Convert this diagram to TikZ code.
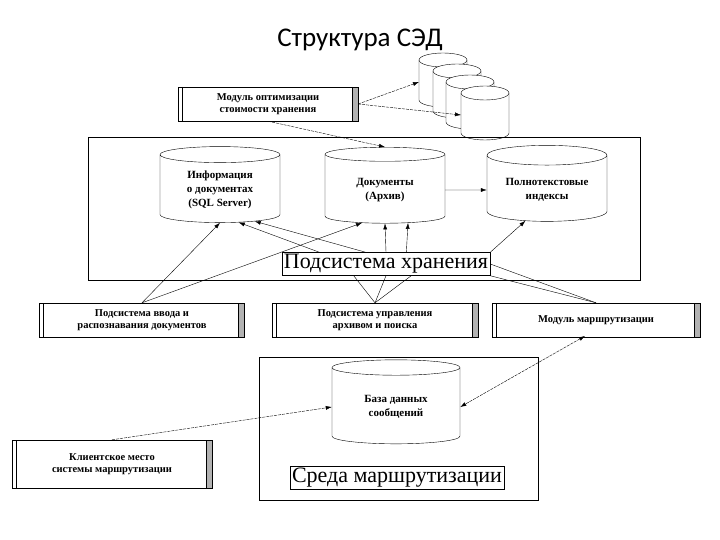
\documentclass[tikz,border=0pt]{standalone}
\usepackage{fontspec}
\setmainfont{Liberation Serif}
\newfontfamily\titlefont{Carlito}
\usetikzlibrary{shapes.geometric,arrows.meta}

\tikzset{
  db/.style={cylinder, shape border rotate=90, aspect=0.22, draw, fill=white,
    minimum width=120pt, minimum height=76pt, align=center, font=\bfseries\fontsize{11}{14}\selectfont},
  module/.style={draw, fill=white, minimum height=34pt, align=center, inner sep=1pt,
    font=\bfseries\fontsize{10.5}{12}\selectfont,
    path picture={
      \draw ([xshift=4pt]path picture bounding box.north west) -- ([xshift=4pt]path picture bounding box.south west);
      \fill[gray!60] ([xshift=-6pt]path picture bounding box.north east) rectangle (path picture bounding box.south east);
      \draw ([xshift=-6pt]path picture bounding box.north east) -- ([xshift=-6pt]path picture bounding box.south east);
    }},
  tagbox/.style={draw, fill=white, inner sep=2pt, font=\fontsize{22}{24}\selectfont},
  link/.style={-{Latex[length=6pt,width=4pt]}, thin},
  dlink/.style={link, dash pattern=on 3pt off 1pt},
}

\begin{document}
\begin{tikzpicture}[x=1pt,y=-1pt]
  \useasboundingbox (0,0) rectangle (720,540);

  \node[font=\titlefont\fontsize{27}{29}\selectfont] (title) at (360,40){Структура СЭД};

  % archive stack
  \foreach \i/\x/\y in {1/443/80,2/457/91,3/470/102,4/485/113}{
    \filldraw[fill=white] (\x-24,\y-20) -- (\x-24,\y+20) arc[start angle=180,end angle=360,x radius=24,y radius=-7]
      -- (\x+24,\y-20) arc[start angle=0,end angle=180,x radius=24,y radius=-7] -- cycle;
    \draw (\x-24,\y-20) arc[start angle=180,end angle=360,x radius=24,y radius=-7];
    \coordinate (s\i) at (\x-24,\y+2);
  }

  \node[module, minimum width=180pt] (opt) at (268,104){Модуль оптимизации\\стоимости хранения};

  % storage subsystem
  \draw (88,137) rectangle (640,280);
  \node[db] (info) at (220,190){Информация\\о документах\\(SQL Server)};
  \node[db] (docs) at (385,190){Документы\\(Архив)};
  \node[db] (fts) at (547,190){Полнотекстовые\\индексы};
  \node[tagbox] (store) at (386,264){Подсистема хранения};

  \node[module, minimum width=205pt] (input) at (142,320){Подсистема ввода и\\распознавания документов};
  \node[module, minimum width=206pt] (arch) at (375,320){Подсистема управления\\архивом и поиска};
  \node[module, minimum width=208pt] (route) at (596,320){Модуль маршрутизации};

  % routing environment
  \draw (259,357) rectangle (538,500);
  \node[db, minimum width=128pt, minimum height=84pt] (msg) at (396,407){База данных\\сообщений};
  \node[tagbox] (env) at (397,478){Среда маршрутизации};
  \node[module, minimum width=200pt, minimum height=48pt] (client) at (112,464){Клиентское место\\системы маршрутизации};

  \draw[dlink] (opt.east) -- (s1);
  \draw[dlink] (opt.east) -- (s4);
  \draw[dlink] (opt.south) -- (docs.north);
  \draw[link] (docs.east) -- (fts.west);

  \draw[link] (input.north) -- (info.south);
  \draw[link] (input.north) -- (docs.235);
  \draw[link] (store.170) -- (info.300);
  \draw[link] (store.150) -- (info.318);
  \draw[link] (store.north) -- (docs.south);
  \draw[link] (store.30) -- (docs.305);
  \draw[link] (store.north east) -- (fts.235);

  \draw (arch.north) -- (store.200);
  \draw (arch.north) -- (store.south);
  \draw (arch.north) -- (store.335);
  \draw (route.north) -- (store.south east);
  \draw (route.north) -- (store.east);

  \coordinate (r) at (585,336);
  \draw[dlink, {Latex[length=6pt,width=4pt]}-{Latex[length=6pt,width=4pt]}] (r) -- (msg.east);
  \draw[dlink] (client.north) -- (msg.west);
\end{tikzpicture}
\end{document}
